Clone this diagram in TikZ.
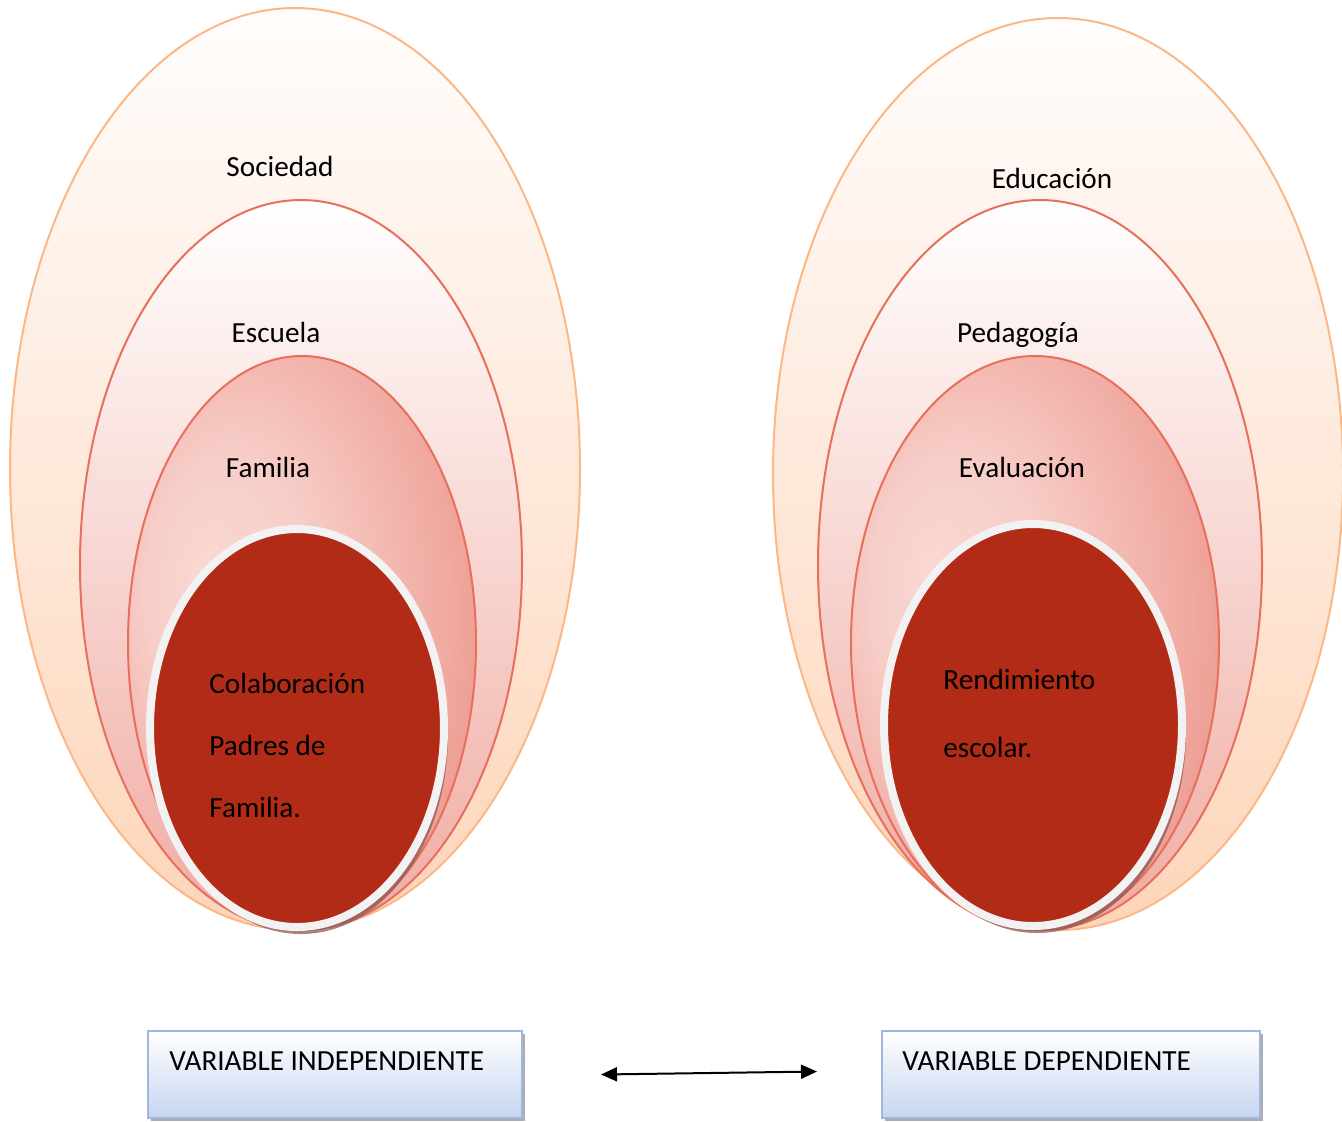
\documentclass[tikz,border=0pt]{standalone}
\usepackage{fontspec}
\setmainfont{Carlito}
\usepackage{xcolor}
\usetikzlibrary{arrows.meta,positioning,shapes.geometric,shadows}
\definecolor{socline}{HTML}{FBB886}
\definecolor{soctop}{HTML}{FFFDFC}
\definecolor{socbot}{HTML}{FDD5B9}
\definecolor{escline}{HTML}{E76F5C}
\definecolor{escbot}{HTML}{F0ABA2}
\definecolor{famlight}{HTML}{F9D8D3}
\definecolor{famsoft}{HTML}{F7CDC7}
\definecolor{fammid}{HTML}{F0AAA1}
\definecolor{famdeep}{HTML}{E98477}
\definecolor{famdark}{HTML}{E6705F}
\definecolor{coredfill}{HTML}{B22B17}
\definecolor{coreborder}{HTML}{F2F2F2}
\definecolor{coreshadow}{HTML}{8E5A56}
\definecolor{boxline}{HTML}{9DB6E2}
\definecolor{boxfill}{HTML}{C6D5F0}
\pgfdeclareradialshading{famshade}{\pgfpoint{-14bp}{6bp}}{color(0bp)=(famlight); color(12bp)=(famsoft); color(27bp)=(fammid); color(40bp)=(famdeep); color(50bp)=(famdark)}
\tikzset{>={Triangle[length=8pt,width=7pt]},
  ring/.style={ellipse, inner sep=0pt},
  outerring/.style={ring, draw=socline, line width=1pt, top color=soctop, bottom color=socbot},
  midring/.style={ring, draw=escline, line width=1pt, top color=white, bottom color=escbot},
  innerring/.style={ring, draw=escline, line width=1pt, shading=famshade},
  core/.style={ring, draw=coreborder, line width=4pt, fill=coredfill,
    drop shadow={shadow xshift=2pt, shadow yshift=-3.5pt, fill=coreshadow, opacity=0.75}},
  varbox/.style={rectangle, inner sep=0pt, draw=boxline, line width=1pt, top color=white, bottom color=boxfill,
    minimum height=43.5pt, drop shadow={shadow xshift=1.5pt, shadow yshift=-1.5pt, fill=black!40, opacity=0.8}},
  lbl/.style={inner sep=0pt, anchor=base},
  lblw/.style={inner sep=0pt, anchor=base west}
}
\begin{document}
\begin{tikzpicture}[x=0.5pt,y=-0.5pt, every node/.append style={font=\fontsize{14.6}{17.5}\selectfont}]
  \useasboundingbox (0,0) rectangle (1342,1121);
  \node[outerring, minimum width=285pt, minimum height=461pt] (soc) at (295,469) {};
  \node[midring, minimum width=221pt, minimum height=365pt] (esc) at (301,565) {};
  \node[innerring, minimum width=174pt, minimum height=287pt] (fam) at (302,643) {};
  \node[core, minimum width=147pt, minimum height=199pt] (colab) at (297,728) {};
  \node[outerring, minimum width=285pt, minimum height=456pt] (edu) at (1058,474) {};
  \node[midring, minimum width=222pt, minimum height=365pt] (ped) at (1040,565) {};
  \node[innerring, minimum width=184pt, minimum height=287pt] (eva) at (1035,643) {};
  \node[core, minimum width=149pt, minimum height=201pt] (rend) at (1033,725) {};
  \node[lbl] (socl) at (280,176) {Sociedad};
  \node[lbl] (escl) at (276,342) {Escuela};
  \node[lbl] (faml) at (268,477) {Familia};
  \node[lblw] (colab1) at (209,693) {Colaboración};
  \node[lblw] (colab2) at (209,755) {Padres de};
  \node[lblw] (colab3) at (209,817) {Familia.};
  \node[lbl] (edul) at (1052,188) {Educación};
  \node[lbl] (pedl) at (1018,342) {Pedagogía};
  \node[lbl] (eval) at (1022,477) {Evaluación};
  \node[lblw] (rend1) at (943,689) {Rendimiento};
  \node[lblw] (rend2) at (943,757) {escolar.};
  \node[varbox, minimum width=187pt] (indep) at (335,1074.5) {};
  \node[varbox, minimum width=189pt] (dep) at (1071,1074.5) {};
  \node[lblw] (indeptxt) at ([xshift=11pt,yshift=-20pt]indep.north west) {VARIABLE INDEPENDIENTE};
  \node[lblw] (deptxt) at ([xshift=10.5pt,yshift=-20pt]dep.north west) {VARIABLE DEPENDIENTE};
  \coordinate (arrl) at ([xshift=39pt]indep.east);
  \coordinate (arrr) at ([xshift=-32pt,yshift=1.5pt]dep.west);
  \draw[<->, line width=1pt] (arrl) -- (arrr);
\end{tikzpicture}
\end{document}
